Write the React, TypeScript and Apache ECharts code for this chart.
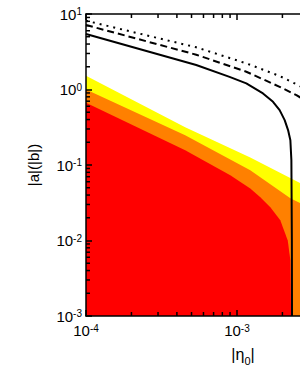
import React, { useEffect, useRef } from 'react';
import * as echarts from 'echarts';

// axis ranges (real values)
const ETA_MIN = 1e-4;
const ETA_MAX = 3e-3;
const A_MIN = 1e-3;
const A_MAX = 10;

// black curves
const solidEta = [1e-4, 5.37e-4, 8.93e-4, 1.153e-3, 1.487e-3, 1.733e-3, 1.917e-3, 2.07e-3, 2.18e-3, 2.258e-3, 2.293e-3, 2.31e-3, 2.315e-3];
const solidA = [5.43, 2.11, 1.47, 1.205, 0.888, 0.687, 0.533, 0.393, 0.29, 0.213, 0.116, 0.01, 0.001];

const dashedEta = [1e-4, 5.37e-4, 1.153e-3, 1.917e-3, 2.475e-3, 3.06e-3];
const dashedA = [7.15, 2.89, 1.72, 1.086, 0.843, 0.652];

const dottedEta = [1e-4, 5.37e-4, 1.153e-3, 1.917e-3, 2.41e-3, 3.06e-3];
const dottedA = [8.15, 3.62, 2.22, 1.51, 1.205, 0.938];

// filled regions (upper boundaries)
const yellowEta = [1e-4, 4.54e-4, 1.225e-3, 2.63e-3, 3.06e-3];
const yellowA = [1.52, 0.317, 0.126, 0.0574, 0.0492];

const orangeEta = [1e-4, 4.54e-4, 1.225e-3, 2.258e-3, 2.63e-3, 3.06e-3];
const orangeA = [1.0, 0.248, 0.0853, 0.0363, 0.0311, 0.026];

const redEta = [1e-4, 4.54e-4, 9.03e-4, 1.225e-3, 1.428e-3, 1.664e-3, 1.936e-3, 2.17e-3, 2.258e-3, 2.282e-3];
const redA = [0.667, 0.157, 0.0733, 0.0488, 0.0374, 0.0275, 0.0185, 0.01, 0.00546, 0.001];

const xTitleMain = '|η';
const xTitleSub = '0';
const xTitleEnd = '|';
const yTitle = '|a|(|b|)';

const FONT = 'Liberation Sans, Arial, sans-serif';
const L = Math.log10;
const toPts = (xs: number[], ys: number[]) => xs.map((x, i) => [L(x), L(ys[i])]);

const X0 = L(ETA_MIN);
const X1 = L(ETA_MAX);
const Y0 = L(A_MIN);
const Y1 = L(A_MAX);

const minorX: number[][] = [];
for (let e = -4; e <= -3; e++) {
  for (let k = 2; k <= 9; k++) {
    const v = L(k * Math.pow(10, e));
    if (v < X1) minorX.push([v, Y0]);
  }
}
const minorY: number[][] = [];
for (let e = -3; e <= 0; e++) {
  for (let k = 2; k <= 9; k++) {
    minorY.push([X0, L(k * Math.pow(10, e))]);
  }
}

const lineStyleAxis = { color: '#000', width: 1.5 };
const fmt = (v: number) => {
  const r = Math.round(v);
  return Math.abs(v - r) < 1e-9 ? `{b|10}{s|${r}}` : '';
};
const rich = {
  b: { fontSize: 15, fontFamily: FONT, color: '#000' },
  s: { fontSize: 10, fontFamily: FONT, color: '#000', verticalAlign: 'top' },
};

export default function App() {
  const ref = useRef<HTMLDivElement>(null);
  useEffect(() => {
    if (!ref.current) return;
    const chart = echarts.init(ref.current, undefined, { renderer: 'svg' });
    const tickLine = (x1: number, y1: number, x2: number, y2: number) => ({
      type: 'line',
      shape: { x1, y1, x2, y2 },
      style: { stroke: '#000', lineWidth: 1.5 },
    });
    const area = (name: string, xs: number[], ys: number[], color: string, z: number) => ({
      name,
      type: 'line',
      data: toPts(xs, ys),
      showSymbol: false,
      symbol: 'none',
      lineStyle: { width: 0 },
      areaStyle: { color, opacity: 1, origin: 'start' },
      z,
      silent: true,
      clip: true,
    });
    const curve = (name: string, xs: number[], ys: number[], type: any) => ({
      name,
      type: 'line',
      data: toPts(xs, ys),
      showSymbol: false,
      symbol: 'none',
      lineStyle: { color: '#000', width: 2, type },
      z: 6,
      silent: true,
      clip: true,
    });
    chart.setOption({
      animation: false,
      backgroundColor: '#fff',
      grid: { left: 86, top: 14, width: 223, height: 302, containLabel: false },
      xAxis: [
        {
          type: 'value', min: X0, max: X1, interval: 1, position: 'bottom', z: 10,
          axisLine: { show: true, onZero: false, lineStyle: lineStyleAxis },
          axisTick: { show: true, inside: true, length: 6, lineStyle: lineStyleAxis },
          splitLine: { show: false },
          axisLabel: { formatter: fmt, rich, margin: 7, showMaxLabel: false },
        },
        {
          type: 'value', min: X0, max: X1, interval: 1, position: 'top', z: 10,
          axisLine: { show: true, onZero: false, lineStyle: lineStyleAxis },
          axisTick: { show: true, inside: true, length: 6, lineStyle: lineStyleAxis },
          splitLine: { show: false },
          axisLabel: { show: false },
        },
      ],
      yAxis: [
        {
          type: 'value', min: Y0, max: Y1, interval: 1, position: 'left', z: 10,
          axisLine: { show: true, onZero: false, lineStyle: lineStyleAxis },
          axisTick: { show: true, inside: true, length: 6, lineStyle: lineStyleAxis },
          splitLine: { show: false },
          axisLabel: { formatter: fmt, rich, margin: 4 },
        },
        {
          type: 'value', min: Y0, max: Y1, interval: 1, position: 'right', z: 10,
          axisLine: { show: true, onZero: false, lineStyle: lineStyleAxis },
          axisTick: { show: true, inside: true, length: 6, lineStyle: lineStyleAxis },
          splitLine: { show: false },
          axisLabel: { show: false },
        },
      ],
      series: [
        area('yellow', yellowEta, yellowA, '#FFFF00', 1),
        area('orange', orangeEta, orangeA, '#FF8000', 2),
        area('red', redEta, redA, '#FF0000', 3),
        curve('dotted', dottedEta, dottedA, [2, 5]),
        curve('dashed', dashedEta, dashedA, [7, 4]),
        curve('solid', solidEta, solidA, 'solid'),
        {
          type: 'custom', silent: true, z: 11, clip: false,
          data: minorX,
          renderItem: (_p: any, api: any) => {
            const x = api.value(0);
            const b = api.coord([x, Y0]);
            const t = api.coord([x, Y1]);
            return {
              type: 'group',
              children: [tickLine(b[0], b[1], b[0], b[1] - 4), tickLine(t[0], t[1], t[0], t[1] + 4)],
            };
          },
        },
        {
          type: 'custom', silent: true, z: 11, clip: false,
          data: minorY,
          renderItem: (_p: any, api: any) => {
            const y = api.value(1);
            const l = api.coord([X0, y]);
            const r = api.coord([X1, y]);
            return {
              type: 'group',
              children: [tickLine(l[0], l[1], l[0] + 4, l[1]), tickLine(r[0], r[1], r[0] - 4, r[1])],
            };
          },
        },
      ],
      graphic: [
        {
          type: 'text', x: 243, y: 356, z: 20,
          style: {
            text: `{a|${xTitleMain}}{s|${xTitleSub}}{a|${xTitleEnd}}`,
            align: 'center', verticalAlign: 'middle',
            rich: {
              a: { fontSize: 16, lineHeight: 20, fontFamily: FONT, fill: '#000', verticalAlign: 'top' },
              s: { fontSize: 11, lineHeight: 11, fontFamily: FONT, fill: '#000', verticalAlign: 'bottom' },
            },
          },
        },
        {
          type: 'text', x: 33, y: 165, rotation: Math.PI / 2, z: 20,
          style: {
            text: yTitle, fontSize: 15, fontFamily: FONT, fill: '#000',
            align: 'center', verticalAlign: 'middle',
          },
        },
      ],
    });
    return () => chart.dispose();
  }, []);
  return (
    <div style={{ position: 'fixed', left: 0, top: 0, width: 300, height: 388, overflow: 'hidden', background: '#fff' }}>
      <div ref={ref} style={{ width: 340, height: 388 }} />
    </div>
  );
}
